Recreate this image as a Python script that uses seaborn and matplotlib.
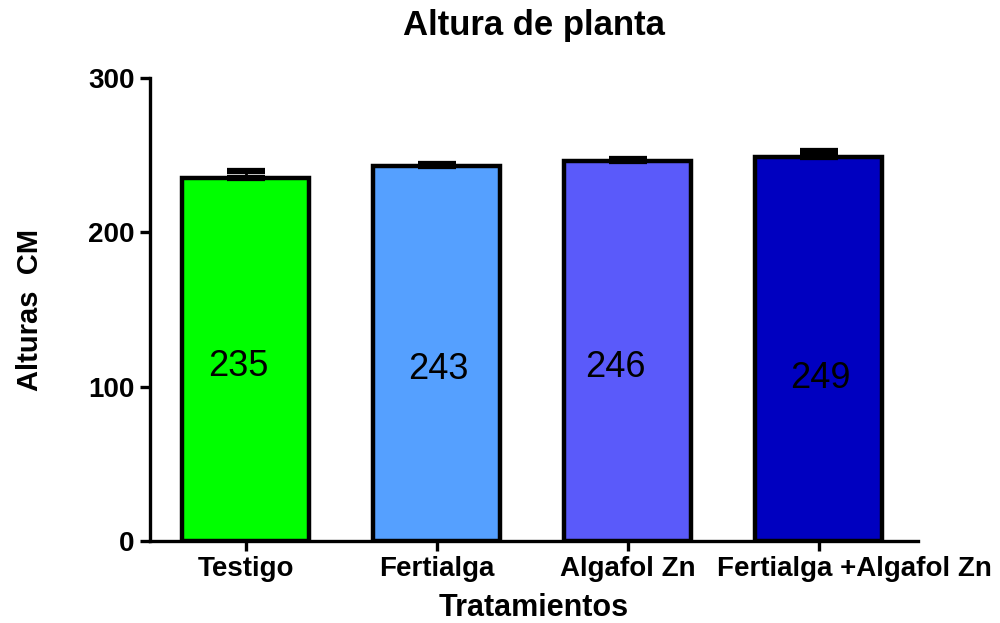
import pandas as pd
import matplotlib.pyplot as plt
import matplotlib.transforms as mtransforms
import seaborn as sns

sns.set_theme(style="white")
plt.rcParams["font.family"] = ["Liberation Sans", "DejaVu Sans"]
plt.rcParams["text.color"] = "black"
plt.rcParams["axes.labelcolor"] = "black"
plt.rcParams["xtick.color"] = "black"
plt.rcParams["ytick.color"] = "black"

tratamientos = ["Testigo", "Fertialga", "Algafol Zn", "Fertialga +Algafol Zn"]
alturas = [235, 243, 246, 249]
errores = [4.5, 1.5, 1.5, 3.5]
etiquetas = ["235", "243", "246", "249"]
colores = ["#00FF00", "#55A0FF", "#5A5AFA", "#0000C0"]

df = pd.DataFrame({"Tratamiento": tratamientos, "Altura": alturas})

fig = plt.figure(figsize=(10, 6.23), dpi=100)
ax = fig.add_axes([0.15, 0.1316, 0.768, 0.7434])

sns.barplot(data=df, x="Tratamiento", y="Altura", hue="Tratamiento",
            palette=colores, saturation=1, edgecolor="black", linewidth=3.2,
            width=0.665, legend=False, ax=ax)

ax.errorbar(range(len(alturas)), alturas, yerr=[[0] * len(errores), errores],
            fmt="none", ecolor="black", elinewidth=2, capsize=14, capthick=4.5,
            zorder=1)

# value labels inside the bars (placed loosely, as in the original)
offsets_x = [-0.04, 0.01, -0.065, 0.01]
label_y = [113, 111, 112.5, 105.5]
for i, (txt, dx, yy) in enumerate(zip(etiquetas, offsets_x, label_y)):
    ax.text(i + dx, yy, txt, ha="center", va="center", fontsize=26, color="black")

ax.set_xlim(-0.5, 3.52)
ax.set_ylim(0, 300)
ax.set_yticks([0, 100, 200, 300])

for side in ["top", "right"]:
    ax.spines[side].set_visible(False)
for side in ["left", "bottom"]:
    ax.spines[side].set_linewidth(2.4)
    ax.spines[side].set_color("black")

ax.tick_params(axis="both", direction="out", length=7, width=2.4, color="black",
               labelsize=20, pad=4, left=True, bottom=True)
for lab in ax.get_xticklabels() + ax.get_yticklabels():
    lab.set_fontweight("bold")

# last category label sits shifted to the right in the original
last = ax.get_xticklabels()[-1]
last.set_transform(last.get_transform() +
                   mtransforms.ScaledTranslation(36 / 100, 0, fig.dpi_scale_trans))

ax.set_title("Altura de planta", fontsize=25, fontweight="bold", pad=31)
ax.set_xlabel("Tratamientos", fontsize=22, fontweight="bold", labelpad=8)
ax.set_ylabel("Alturas  CM", fontsize=21, fontweight="bold", labelpad=32)

plt.savefig("out.png", dpi=100)
